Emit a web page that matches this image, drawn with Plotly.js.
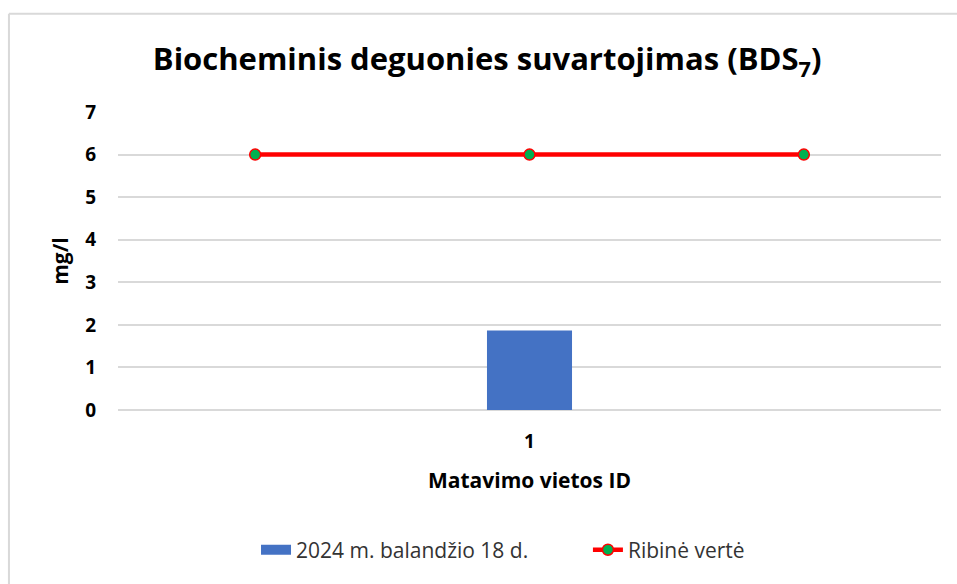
<!DOCTYPE html>
<html>
<head>
<meta charset="utf-8">
<script src="https://cdn.plot.ly/plotly-3.0.1.min.js"></script>
<style>html,body{margin:0;padding:0;background:#fff;}#chart{width:957px;height:584px;}</style>
</head>
<body>
<div id="chart"></div>
<script>
// Data
const categories = ['1'];
const barValues = [1.87];
const barName = '2024 m. balandžio 18 d.';
const limitPositions = [0, 1, 2];
const limitValues = [6, 6, 6];
const limitName = 'Ribinė vertė';
const yTicks = [0, 1, 2, 3, 4, 5, 6, 7];

const FONT = '"Open Sans", Lato, sans-serif';

const traces = [
  {
    type: 'bar',
    x: [1],
    y: barValues,
    name: barName,
    width: 0.31,
    marker: {color: '#4472c4'},
    showlegend: false,
    hoverinfo: 'y'
  },
  // legend proxy for the bar series (wide rectangular swatch, draws nothing)
  {
    type: 'scatter',
    mode: 'lines',
    x: [null],
    y: [null],
    name: barName,
    legend: 'legend',
    line: {color: '#4472c4', width: 13},
    hoverinfo: 'skip'
  },
  {
    type: 'scatter',
    mode: 'lines+markers',
    x: limitPositions,
    y: limitValues,
    name: limitName,
    legend: 'legend2',
    line: {color: '#ff0000', width: 4.5},
    marker: {color: '#00b050', size: 11, line: {color: '#ff0000', width: 1.5}}
  }
];

const legendFont = {size: 21, family: FONT, color: '#333333'};

const layout = {
  width: 957,
  height: 584,
  paper_bgcolor: '#ffffff',
  plot_bgcolor: '#ffffff',
  margin: {l: 118, r: 16, t: 112, b: 174, autoexpand: false},
  font: {family: FONT, color: '#000000'},
  title: {
    text: '<b>Biocheminis deguonies suvartojimas (BDS<sub>7</sub>)</b>',
    font: {family: FONT, size: 31, color: '#000000'},
    x: 0.509, xanchor: 'center',
    y: 0.898, yanchor: 'middle'
  },
  xaxis: {
    range: [-0.5, 2.5],
    tickvals: [1],
    ticktext: categories.map(c => '<b>' + c + '</b>'),
    tickfont: {size: 19, family: FONT, color: '#000'},
    showgrid: false,
    zeroline: false,
    showline: false,
    ticks: '',
    ticklabelstandoff: 18,
    title: {text: '<b>Matavimo vietos ID</b>', font: {size: 21, family: FONT, color: '#000'}, standoff: 20},
    fixedrange: true
  },
  yaxis: {
    range: [0, 7],
    tickvals: yTicks,
    ticktext: yTicks.map(v => '<b>' + v + '</b>'),
    tickfont: {size: 19, family: FONT, color: '#000'},
    showgrid: true,
    gridcolor: '#d9d9d9',
    gridwidth: 2,
    zeroline: true,
    zerolinecolor: '#d9d9d9',
    zerolinewidth: 2,
    showline: false,
    ticks: '',
    ticklabelstandoff: 21,
    title: {text: '<b>mg/l</b>', font: {size: 21, family: FONT, color: '#000'}, standoff: 10},
    fixedrange: true
  },
  showlegend: true,
  legend: {
    orientation: 'h',
    x: 0.1677, xanchor: 'left',
    y: -0.47, yanchor: 'middle',
    font: legendFont,
    bgcolor: 'rgba(0,0,0,0)'
  },
  legend2: {
    orientation: 'h',
    x: 0.571, xanchor: 'left',
    y: -0.47, yanchor: 'middle',
    font: legendFont,
    bgcolor: 'rgba(0,0,0,0)'
  },
  shapes: [
    {type: 'line', xref: 'paper', yref: 'paper', x0: -0.1325, x1: 1.05, y0: 1.33, y1: 1.33, line: {color: '#d9d9d9', width: 2}},
    {type: 'line', xref: 'paper', yref: 'paper', x0: -0.1325, x1: -0.1325, y0: 1.33, y1: -0.6, line: {color: '#d9d9d9', width: 2}}
  ]
};

Plotly.newPlot('chart', traces, layout, {displayModeBar: false, staticPlot: true});
</script>
</body>
</html>
